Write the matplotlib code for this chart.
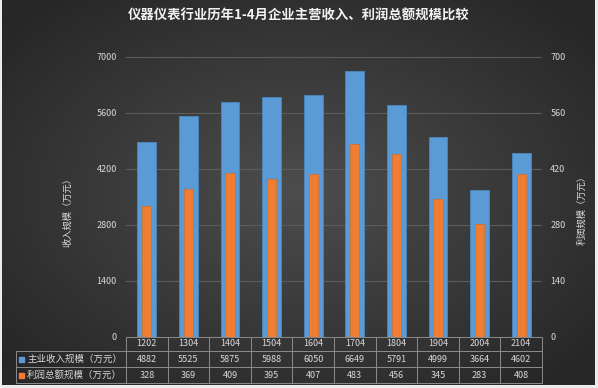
import matplotlib
matplotlib.use('Agg')
import matplotlib.pyplot as plt
import numpy as np

plt.rcParams['font.family'] = ['Noto Sans CJK SC', 'DejaVu Sans']

years = ['1202', '1304', '1404', '1504', '1604', '1704', '1804', '1904', '2004', '2104']
revenue = [4882, 5525, 5875, 5988, 6050, 6649, 5791, 4999, 3664, 4602]
profit = [328, 369, 409, 395, 407, 483, 456, 345, 283, 408]
rev_label = '主业收入规模（万元）'
prof_label = '利润总额规模（万元）'
title = '仪器仪表行业历年1-4月企业主营收入、利润总额规模比较'

blue = '#5b9bd5'
orange = '#ef7e33'
txt = '#d9d9d9'

W, H = 598, 388
fig = plt.figure(figsize=(W / 100, H / 100), dpi=100)
fig.patch.set_facecolor('#ececec')

# dark radial background
bg = fig.add_axes([2 / W, 3 / H, 593 / W, 385 / H], zorder=0)
gx, gy = np.meshgrid(np.linspace(-1, 1, 300), np.linspace(-1, 1, 200))
r = np.clip(np.sqrt(gx ** 2 + gy ** 2) / 1.3, 0, 1)
c0, c1 = np.array([0x4d, 0x4d, 0x4d]) / 255, np.array([0x27, 0x27, 0x27]) / 255
img = c0[None, None, :] * (1 - r[..., None]) + c1[None, None, :] * r[..., None]
bg.imshow(img, aspect='auto', extent=[0, 1, 0, 1])
bg.axis('off')

ax = fig.add_axes([126 / W, 1 - 337 / H, 416 / W, 280.3 / H], zorder=1)
ax.patch.set_visible(False)
x = np.arange(len(years))
ax.bar(x, revenue, width=0.45, color=blue, edgecolor='#4a86c0', linewidth=0.6, zorder=2)
ax.set_xlim(-0.5, len(years) - 0.5)
ax.set_ylim(0, 7000)
ax.set_yticks(np.arange(0, 7001, 1400))
ax.set_xticks([])
ax.grid(axis='y', color='#5c5c5c', linewidth=0.8)
ax.set_axisbelow(True)
ax.tick_params(axis='y', length=0, pad=6.5, labelsize=6.5, labelcolor=txt)
for s in ax.spines.values():
    s.set_visible(False)

ax2 = ax.twinx()
ax2.set_zorder(2)
ax2.patch.set_visible(False)
ax2.bar(x, profit, width=0.22, color=orange, edgecolor='#d86a22', linewidth=0.5)
ax2.set_ylim(0, 700)
ax2.set_yticks(np.arange(0, 701, 140))
ax2.tick_params(axis='y', length=0, pad=6, labelsize=6.5, labelcolor=txt)
for s in ax2.spines.values():
    s.set_visible(False)

# data table under the bars
cells = [[rev_label] + [str(v) for v in revenue],
         [prof_label] + [str(v) for v in profit]]
tbl = ax.table(cellText=cells, colLabels=[''] + years, cellLoc='center',
               colWidths=[110] + [41.6] * len(years),
               bbox=[-110 / 416, -46 / 280.3, 526 / 416, 46 / 280.3])
tbl.auto_set_font_size(False)
tbl.set_fontsize(6.5)
for (row, col), cell in tbl.get_celld().items():
    cell.set_facecolor('none')
    cell.set_edgecolor('#8a8a8a')
    cell.set_linewidth(0.7)
    cell.get_text().set_color(txt)
    cell.set_height(14 if row == 0 else 16)
    if col == 0:
        cell.get_text().set_ha('left')
        cell._loc = 'left'
        cell.PAD = 0.1
        cell.get_text().set_fontsize(6.8)
    if row == 0 and col == 0:
        cell.visible_edges = ''

fig.canvas.draw()
for row, color in [(1, blue), (2, orange)]:
    cell = tbl[row, 0]
    ax.plot(cell.get_x() + 0.011, cell.get_y() + cell.get_height() / 2, marker='s',
            markersize=3.6, color=color, transform=ax.transAxes, clip_on=False, zorder=5)

fig.text(0.5, 1 - 16 / H, title, ha='center', va='center', fontsize=9.6,
         fontweight='bold', color='#f2f2f2')
fig.text(68 / W, 1 - 210 / H, '收入规模（万元）', rotation=90, ha='center', va='center',
         fontsize=6.7, color=txt)
fig.text(582 / W, 1 - 208 / H, '利润规模（万元）', rotation=90, ha='center', va='center',
         fontsize=6.7, color=txt)

fig.savefig('out.png', dpi=100, facecolor=fig.get_facecolor())
